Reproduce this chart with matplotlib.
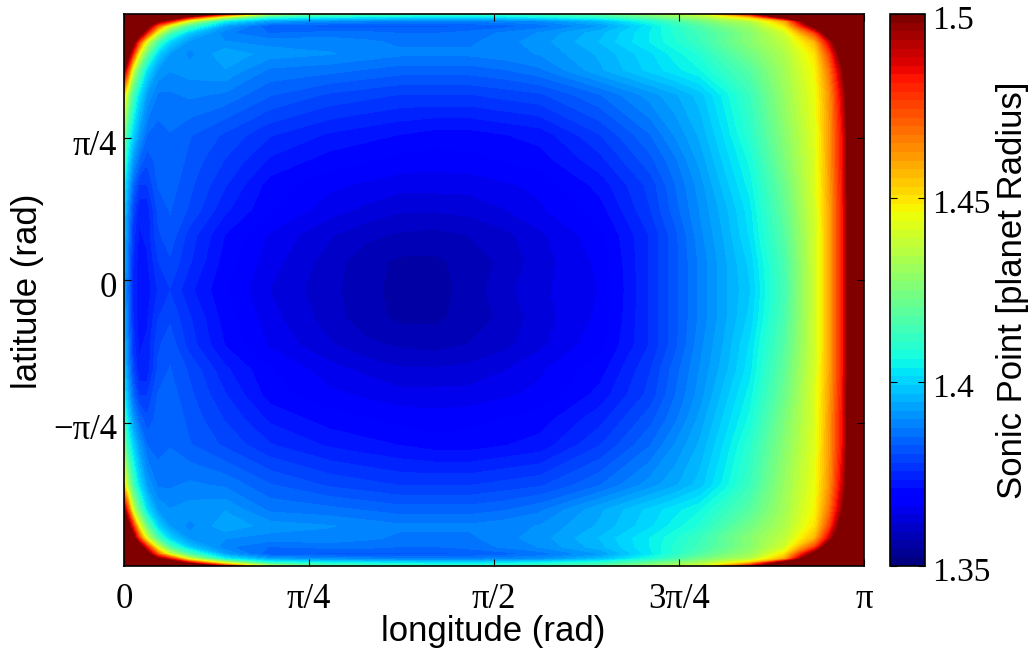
import numpy as np
import matplotlib
matplotlib.use('Agg')
import matplotlib.pyplot as plt
from matplotlib.cm import ScalarMappable
from matplotlib.colors import BoundaryNorm
from matplotlib.transforms import ScaledTranslation

# grid positions (rad), denser near the edges
lon = [0, .017, .038, .064, .098, .144, .195, .280, .429, .620, .875, 1.023, 1.172, 1.320, 1.469,
       1.617, 1.766, 2.021, 2.233, 2.339, 2.445, 2.551, 2.658, 2.806, 2.934, 2.997, 3.052, 3.091, np.pi]
lat = [1.469, 1.453, 1.431, 1.403, 1.364, 1.315, 1.249, 1.160, 1.023, .802, .664, .526, .389, .251, .102, -.052,
       -.207, -.356, -.493, -.631, -.769, -.907, -1.127, -1.265, -1.353, -1.420, -1.469, -1.508, -1.535, -1.557, -1.574]

# sonic point radius, one row per latitude
sonic = [
    [1.60,1.60,1.60,1.60,1.60,1.58,1.56,1.53,1.485,1.435,1.42,1.417,1.415,1.413,1.412,1.413,1.415,1.42,1.43,1.435,1.44,1.46,1.485,1.53,1.56,1.58,1.60,1.60,1.60],
    [1.60,1.60,1.60,1.58,1.56,1.54,1.515,1.488,1.44,1.41,1.405,1.404,1.403,1.402,1.402,1.403,1.405,1.41,1.42,1.426,1.432,1.442,1.455,1.51,1.55,1.57,1.59,1.60,1.60],
    [1.60,1.60,1.58,1.55,1.53,1.50,1.485,1.44,1.405,1.393,1.39,1.389,1.388,1.388,1.388,1.389,1.39,1.397,1.408,1.415,1.423,1.43,1.435,1.46,1.53,1.55,1.58,1.60,1.60],
    [1.60,1.59,1.56,1.535,1.505,1.47,1.44,1.415,1.393,1.383,1.382,1.382,1.382,1.382,1.383,1.384,1.386,1.392,1.403,1.41,1.417,1.424,1.43,1.45,1.505,1.53,1.56,1.58,1.60],
    [1.58,1.56,1.53,1.51,1.48,1.44,1.415,1.398,1.388,1.385,1.386,1.386,1.385,1.385,1.386,1.388,1.39,1.396,1.404,1.409,1.414,1.42,1.427,1.44,1.475,1.515,1.54,1.56,1.58],
    [1.56,1.54,1.505,1.475,1.44,1.415,1.40,1.391,1.39,1.389,1.389,1.388,1.387,1.387,1.387,1.389,1.391,1.397,1.404,1.408,1.413,1.42,1.427,1.437,1.457,1.49,1.52,1.55,1.57],
    [1.53,1.505,1.48,1.445,1.42,1.40,1.392,1.389,1.394,1.391,1.39,1.389,1.388,1.388,1.388,1.389,1.39,1.395,1.401,1.405,1.409,1.416,1.423,1.434,1.45,1.476,1.51,1.54,1.56],
    [1.497,1.475,1.44,1.42,1.402,1.392,1.39,1.391,1.392,1.387,1.386,1.385,1.384,1.384,1.384,1.385,1.387,1.394,1.40,1.403,1.406,1.412,1.418,1.432,1.447,1.468,1.498,1.53,1.55],
    [1.452,1.432,1.415,1.402,1.392,1.387,1.387,1.388,1.387,1.383,1.38,1.379,1.378,1.378,1.378,1.379,1.38,1.385,1.391,1.394,1.398,1.405,1.413,1.43,1.445,1.463,1.49,1.52,1.54],
    [1.425,1.41,1.40,1.392,1.385,1.384,1.385,1.383,1.38,1.376,1.373,1.372,1.371,1.37,1.37,1.371,1.372,1.378,1.385,1.39,1.395,1.402,1.41,1.427,1.443,1.462,1.485,1.515,1.535],
    [1.415,1.402,1.392,1.385,1.381,1.384,1.385,1.382,1.378,1.373,1.37,1.369,1.368,1.3675,1.368,1.369,1.37,1.375,1.382,1.387,1.393,1.40,1.407,1.425,1.442,1.462,1.485,1.515,1.535],
    [1.405,1.395,1.385,1.378,1.378,1.383,1.384,1.381,1.376,1.37,1.367,1.366,1.365,1.365,1.365,1.366,1.367,1.372,1.379,1.385,1.391,1.398,1.405,1.422,1.442,1.461,1.484,1.515,1.535],
    [1.40,1.39,1.38,1.374,1.374,1.381,1.383,1.38,1.374,1.369,1.365,1.3635,1.362,1.362,1.3625,1.364,1.366,1.37,1.378,1.384,1.39,1.396,1.403,1.42,1.441,1.46,1.483,1.515,1.535],
    [1.397,1.388,1.377,1.373,1.374,1.38,1.382,1.377,1.371,1.366,1.362,1.36,1.359,1.3585,1.3595,1.361,1.3635,1.368,1.376,1.382,1.389,1.395,1.402,1.418,1.44,1.46,1.483,1.515,1.535],
    [1.395,1.386,1.376,1.372,1.373,1.378,1.38,1.376,1.37,1.365,1.3605,1.358,1.3565,1.3565,1.358,1.36,1.363,1.367,1.376,1.382,1.388,1.394,1.40,1.416,1.44,1.46,1.483,1.515,1.535],
    [1.393,1.385,1.375,1.372,1.372,1.376,1.378,1.374,1.369,1.364,1.36,1.358,1.356,1.356,1.358,1.361,1.3635,1.3665,1.376,1.382,1.388,1.394,1.399,1.415,1.44,1.46,1.483,1.515,1.535],
    [1.395,1.386,1.376,1.372,1.373,1.378,1.38,1.376,1.37,1.365,1.3605,1.358,1.3565,1.3565,1.358,1.36,1.363,1.367,1.376,1.382,1.388,1.394,1.40,1.416,1.44,1.46,1.483,1.515,1.535],
    [1.397,1.388,1.377,1.373,1.374,1.38,1.382,1.377,1.371,1.366,1.362,1.36,1.359,1.3585,1.3595,1.361,1.3635,1.368,1.376,1.382,1.389,1.395,1.402,1.418,1.44,1.46,1.483,1.515,1.535],
    [1.40,1.39,1.38,1.374,1.374,1.381,1.383,1.38,1.374,1.369,1.365,1.3635,1.362,1.362,1.3625,1.364,1.366,1.37,1.378,1.384,1.39,1.396,1.403,1.42,1.441,1.46,1.483,1.515,1.535],
    [1.405,1.395,1.385,1.378,1.378,1.383,1.384,1.381,1.376,1.37,1.367,1.366,1.365,1.365,1.365,1.366,1.367,1.372,1.379,1.385,1.391,1.398,1.405,1.422,1.442,1.461,1.484,1.515,1.535],
    [1.415,1.402,1.392,1.385,1.381,1.384,1.385,1.382,1.378,1.373,1.37,1.369,1.368,1.3675,1.368,1.369,1.37,1.375,1.382,1.387,1.393,1.40,1.407,1.425,1.442,1.462,1.485,1.515,1.535],
    [1.425,1.41,1.40,1.392,1.385,1.384,1.385,1.383,1.38,1.376,1.373,1.372,1.371,1.37,1.37,1.371,1.372,1.378,1.385,1.39,1.395,1.402,1.41,1.427,1.443,1.462,1.485,1.515,1.535],
    [1.452,1.432,1.415,1.402,1.392,1.387,1.387,1.388,1.387,1.383,1.38,1.379,1.378,1.378,1.378,1.379,1.38,1.385,1.391,1.394,1.398,1.405,1.413,1.43,1.445,1.463,1.49,1.52,1.54],
    [1.497,1.475,1.44,1.42,1.402,1.392,1.39,1.391,1.392,1.387,1.386,1.385,1.384,1.384,1.384,1.385,1.387,1.394,1.40,1.403,1.406,1.412,1.418,1.432,1.447,1.468,1.498,1.53,1.55],
    [1.53,1.505,1.48,1.445,1.42,1.40,1.392,1.389,1.394,1.391,1.39,1.389,1.388,1.388,1.388,1.389,1.39,1.395,1.401,1.405,1.409,1.416,1.423,1.434,1.45,1.476,1.51,1.54,1.56],
    [1.56,1.54,1.505,1.475,1.44,1.415,1.40,1.391,1.39,1.389,1.389,1.388,1.387,1.387,1.387,1.389,1.391,1.397,1.404,1.408,1.413,1.42,1.427,1.437,1.457,1.49,1.52,1.55,1.57],
    [1.58,1.56,1.53,1.51,1.48,1.44,1.415,1.398,1.388,1.385,1.386,1.386,1.385,1.385,1.386,1.388,1.39,1.396,1.404,1.409,1.414,1.42,1.427,1.44,1.475,1.515,1.54,1.56,1.58],
    [1.60,1.59,1.56,1.535,1.505,1.47,1.44,1.415,1.393,1.383,1.382,1.382,1.382,1.382,1.383,1.384,1.386,1.392,1.403,1.41,1.417,1.424,1.43,1.45,1.505,1.53,1.56,1.58,1.60],
    [1.60,1.60,1.58,1.55,1.53,1.50,1.485,1.44,1.405,1.393,1.39,1.389,1.388,1.388,1.388,1.389,1.39,1.397,1.408,1.415,1.423,1.43,1.435,1.46,1.53,1.55,1.58,1.60,1.60],
    [1.60,1.60,1.60,1.58,1.56,1.54,1.515,1.488,1.44,1.41,1.405,1.404,1.403,1.402,1.402,1.403,1.405,1.41,1.42,1.426,1.432,1.442,1.455,1.51,1.55,1.57,1.59,1.60,1.60],
    [1.60,1.60,1.60,1.60,1.60,1.58,1.56,1.53,1.485,1.435,1.42,1.417,1.415,1.413,1.412,1.413,1.415,1.42,1.43,1.435,1.44,1.46,1.485,1.53,1.56,1.58,1.60,1.60,1.60],
]

x_ticks = [0, np.pi/4, np.pi/2, 3*np.pi/4, np.pi]
x_labels = ['0', 'π/4', 'π/2', '3π/4', 'π']
y_ticks = [-np.pi/4, 0, np.pi/4]
y_labels = ['\u2212π/4', '0', 'π/4']
cbar_ticks = [1.35, 1.4, 1.45, 1.5]
cbar_labels = ['1.35', '1.4', '1.45', '1.5']

W, H = 1032, 649
fig = plt.figure(figsize=(W/100, H/100), dpi=100)
ax = fig.add_axes([124/W, 1-566/H, 740/W, 552/H])
cax = fig.add_axes([890/W, 1-566/H, 35/W, 552/H])

levels = np.linspace(1.35, 1.5, 65)
jet = plt.get_cmap('jet', 64)
ax.contourf(lon, lat, sonic, levels=levels, cmap=jet, extend='both', antialiased=False)
ax.set_xlim(0, np.pi)
ax.set_ylim(-1.574, 1.469)

ax.set_xticks(x_ticks)
ax.set_xticklabels(x_labels, family='Liberation Serif', fontsize=25)
ax.set_yticks(y_ticks)
ax.set_yticklabels(y_labels, family='Liberation Serif', fontsize=25)
ax.tick_params(direction='in', top=True, right=True, length=5, width=0.8)
ax.tick_params(axis='x', pad=12)
ax.tick_params(axis='y', pad=5)
ax.set_xlabel('longitude (rad)', family='Liberation Sans', fontsize=25)
ax.set_ylabel('latitude (rad)', family='Liberation Sans', fontsize=25)
ax.xaxis.set_label_coords((493.5-124)/740, -(631-566)/552, transform=ax.transAxes)
ax.yaxis.set_label_coords((27.5-124)/740, (566-291)/552, transform=ax.transAxes)
ax.xaxis.label.set_va('center')
ax.yaxis.label.set_va('center')

# colourbar without the arrow ends of the contour set
cbar = fig.colorbar(ScalarMappable(norm=BoundaryNorm(levels, 64), cmap=jet), cax=cax)
cbar.set_ticks(cbar_ticks)
cbar.set_ticklabels(cbar_labels, family='Liberation Serif', fontsize=24)
cbar.ax.minorticks_off()
cbar.ax.tick_params(direction='in', length=5, width=0.8, pad=5, left=True, right=True)
cbar.set_label('Sonic Point [planet Radius]', family='Liberation Sans', fontsize=25)
cbar.ax.yaxis.set_label_coords((1013-890)/35, (566-290)/552, transform=cbar.ax.transAxes)
cbar.ax.yaxis.label.set_va('center')

# tick labels sit a little below their ticks in the original
for label, dy in [(l, 3) for l in cbar.ax.get_yticklabels()] + [(l, 4) for l in ax.get_yticklabels()]:
    label.set_transform(label.get_transform() + ScaledTranslation(0, -dy/100, fig.dpi_scale_trans))

for s in ax.spines.values():
    s.set_linewidth(1.2)
cbar.outline.set_linewidth(1.2)

fig.savefig('out.png', dpi=100)
